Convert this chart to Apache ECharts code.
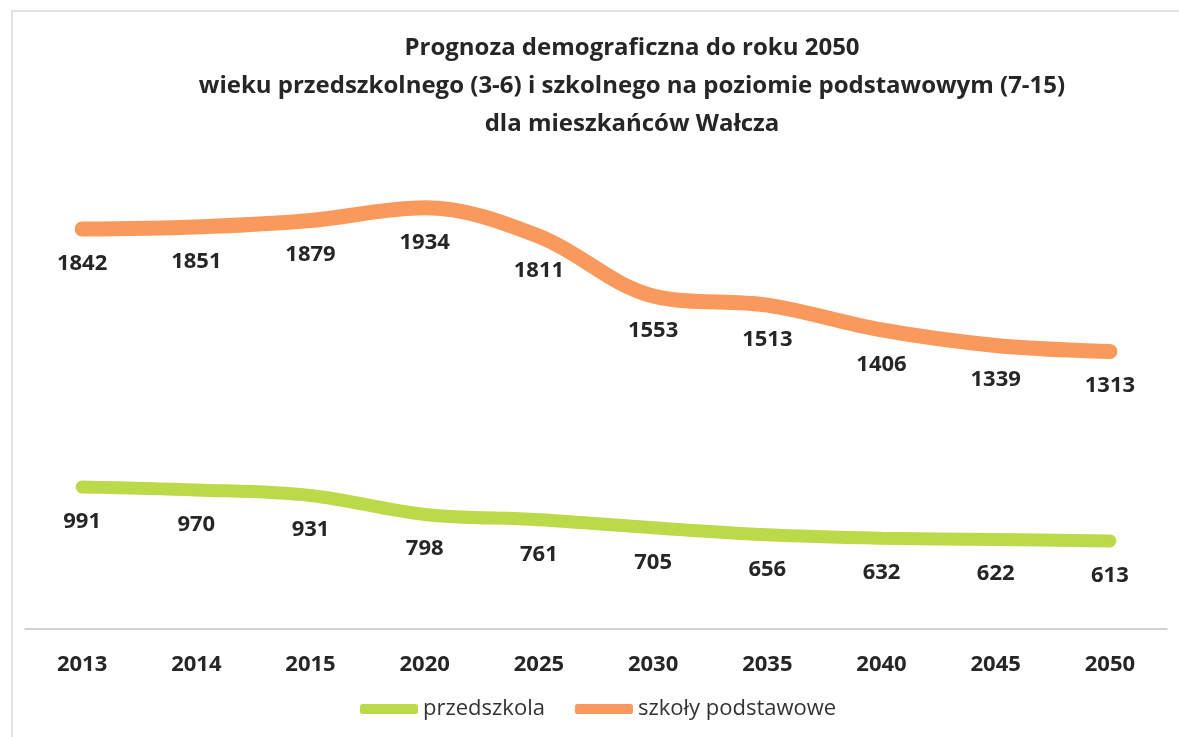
<!DOCTYPE html>
<html>
<head>
<meta charset="utf-8">
<title>Prognoza demograficzna</title>
<script src="https://cdn.jsdelivr.net/npm/echarts@6/dist/echarts.min.js"></script>
<style>
  html, body { margin: 0; padding: 0; background: #fff; }
  #chart { width: 1179px; height: 737px; }
</style>
</head>
<body>
<div id="chart"></div>
<script>
  // lata prognozy
  var years = ['2013', '2014', '2015', '2020', '2025', '2030', '2035', '2040', '2045', '2050']
  // wiek przedszkolny (3-6)
  var przedszkola = [991, 970, 931, 798, 761, 705, 656, 632, 622, 613]
  // wiek szkolny, poziom podstawowy (7-15)
  var szkolyPodstawowe = [1842, 1851, 1879, 1934, 1811, 1553, 1513, 1406, 1339, 1313]

  var green = '#bcd94a'
  var orange = '#f99a5c'
  var font = '"Open Sans", "Noto Sans", sans-serif'

  var chart = echarts.init(document.getElementById('chart'), null, {renderer: 'canvas'})

  var labelOption = {
    show: true,
    position: 'bottom',
    distance: 23,
    fontFamily: font,
    fontSize: 22,
    fontWeight: 'bold',
    color: '#262626'
  }

  chart.setOption({
    backgroundColor: '#fff',
    animation: false,
    title: {
      text: 'Prognoza demograficzna do roku 2050\nwieku przedszkolnego (3-6) i szkolnego na poziomie podstawowym (7-15)\ndla mieszkańców Wałcza',
      left: 632,
      top: 29,
      padding: 0,
      textAlign: 'center',
      textStyle: {
        fontFamily: font,
        fontSize: 24,
        fontWeight: 'bold',
        color: '#262626',
        lineHeight: 38
      }
    },
    graphic: [{
      type: 'rect',
      shape: {x: 12, y: 11, width: 1200, height: 760},
      style: {fill: 'none', stroke: '#d9d9d9', lineWidth: 1.5},
      silent: true
    }],
    legend: {
      data: ['przedszkola', 'szkoły podstawowe'],
      left: 355,
      top: 693,
      icon: 'roundRect',
      itemWidth: 58,
      itemHeight: 10,
      itemGap: 30,
      textStyle: {fontFamily: font, fontSize: 22, color: '#333'}
    },
    grid: {left: 25, right: 12, top: 100, bottom: 105},
    xAxis: {
      type: 'category',
      data: years,
      boundaryGap: true,
      axisTick: {show: false},
      axisLine: {lineStyle: {color: '#c4c4c4', width: 1.5}},
      axisLabel: {
        margin: 22,
        fontFamily: font,
        fontSize: 22,
        fontWeight: 'bold',
        color: '#262626'
      },
      splitLine: {show: false}
    },
    yAxis: [
      // osobne, ukryte skale dla obu serii (tak jak na oryginale)
      {type: 'value', min: -25, max: 3700, show: false, splitLine: {show: false}},
      {type: 'value', min: 100, max: 2400, show: false, splitLine: {show: false}}
    ],
    series: [
      {
        name: 'przedszkola',
        type: 'line',
        yAxisIndex: 0,
        smooth: 0.35,
        symbol: 'circle',
        symbolSize: 1,
        itemStyle: {color: green},
        lineStyle: {color: green, width: 13, cap: 'round'},
        label: labelOption,
        data: przedszkola
      },
      {
        name: 'szkoły podstawowe',
        type: 'line',
        yAxisIndex: 1,
        smooth: 0.35,
        symbol: 'circle',
        symbolSize: 1,
        itemStyle: {color: orange},
        lineStyle: {color: orange, width: 15, cap: 'round'},
        label: labelOption,
        data: szkolyPodstawowe
      }
    ]
  })
</script>
</body>
</html>
